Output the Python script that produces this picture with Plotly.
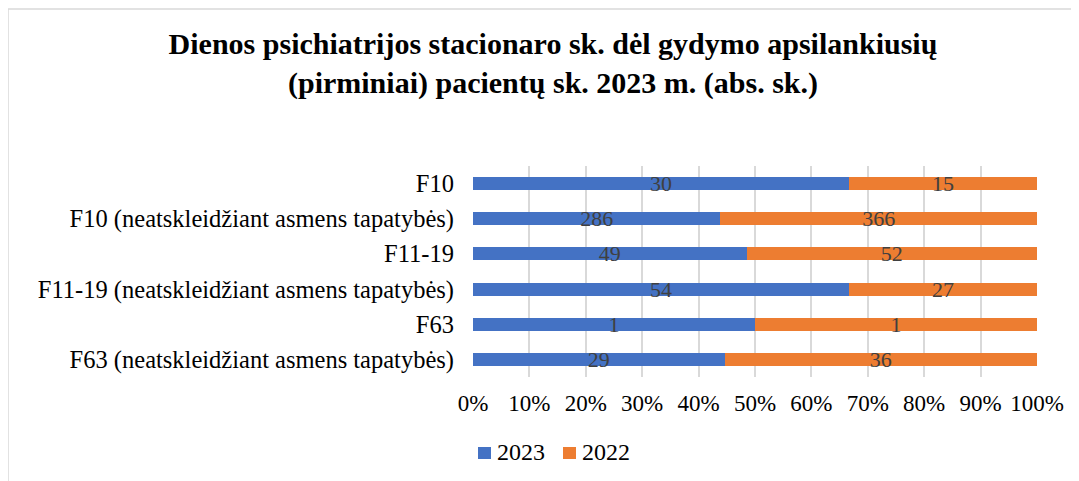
import plotly.graph_objects as go

categories = [
    "F10",
    "F10 (neatskleidžiant asmens tapatybės)",
    "F11-19",
    "F11-19 (neatskleidžiant asmens tapatybės)",
    "F63",
    "F63 (neatskleidžiant asmens tapatybės)",
]
values_2023 = [30, 286, 49, 54, 1, 29]
values_2022 = [15, 366, 52, 27, 1, 36]
x_ticks = [0, 10, 20, 30, 40, 50, 60, 70, 80, 90, 100]
series = [("2023", values_2023, "#4472C4"), ("2022", values_2022, "#ED7D31")]

FONT = "Liberation Serif"
W, H = 1079, 481
L, R, T, B = 465, 50, 158, 112
PW, PH = W - L - R, H - T - B


def px(x):  # figure pixel -> paper x
    return (x - L) / PW


def py(y):  # figure pixel (from top) -> paper y
    return (PH - (y - T)) / PH


fig = go.Figure()
for name, vals, color in series:
    fig.add_trace(go.Bar(
        y=categories, x=vals, name=name, orientation="h",
        marker=dict(color=color, line=dict(width=0)),
        text=[str(v) for v in vals],
        textposition="inside", insidetextanchor="middle",
        constraintext="none", textangle=0,
        textfont=dict(family=FONT, size=22, color="#404040"),
    ))

fig.update_layout(
    barmode="stack", barnorm="percent", bargap=0.63,
    width=W, height=H,
    margin=dict(l=L, r=R, t=T, b=B),
    paper_bgcolor="white", plot_bgcolor="white",
    font=dict(family=FONT, size=23, color="#000000"),
    title=dict(
        text="<b>Dienos psichiatrijos stacionaro sk. dėl gydymo apsilankiusių<br>(pirminiai) pacientų sk. 2023 m. (abs. sk.)</b>",
        x=545 / W, xanchor="center", xref="container",
        y=1 - 46 / H, yanchor="middle", yref="container",
        font=dict(family=FONT, size=30, color="#000000"),
    ),
    showlegend=False,
)
fig.update_xaxes(
    range=[0, 100], tickvals=x_ticks, ticktext=[f"{t}%" for t in x_ticks],
    showgrid=True, gridcolor="#D9D9D9", gridwidth=1.5,
    zeroline=False, showline=False, ticks="", ticklabelstandoff=10,
    tickfont=dict(family=FONT, size=23, color="#000000"),
)
fig.update_yaxes(
    autorange="reversed", showgrid=False, showline=False, ticks="",
    ticklabelstandoff=18, tickfont=dict(family=FONT, size=24.5, color="#000000"),
)

# legend drawn by hand: small square + label, placed like the original
legend_x = [470, 555]
for (name, _, color), lx in zip(series, legend_x):
    fig.add_shape(type="rect", xref="paper", yref="paper",
                  x0=px(lx), x1=px(lx + 13), y0=py(451), y1=py(439),
                  fillcolor=color, line=dict(width=0))
    fig.add_annotation(text=name, xref="paper", yref="paper",
                       x=px(lx + 17), y=py(444), xanchor="left", yanchor="middle",
                       showarrow=False, font=dict(family=FONT, size=24, color="#000000"))

# outer chart frame (light gray, cut off by the window on the right and bottom)
fig.add_shape(type="rect", xref="paper", yref="paper",
              x0=px(0), x1=px(W + 20), y0=py(H + 20), y1=py(1),
              line=dict(color="#D9D9D9", width=1.5), layer="below")

fig.write_html("out.html")
